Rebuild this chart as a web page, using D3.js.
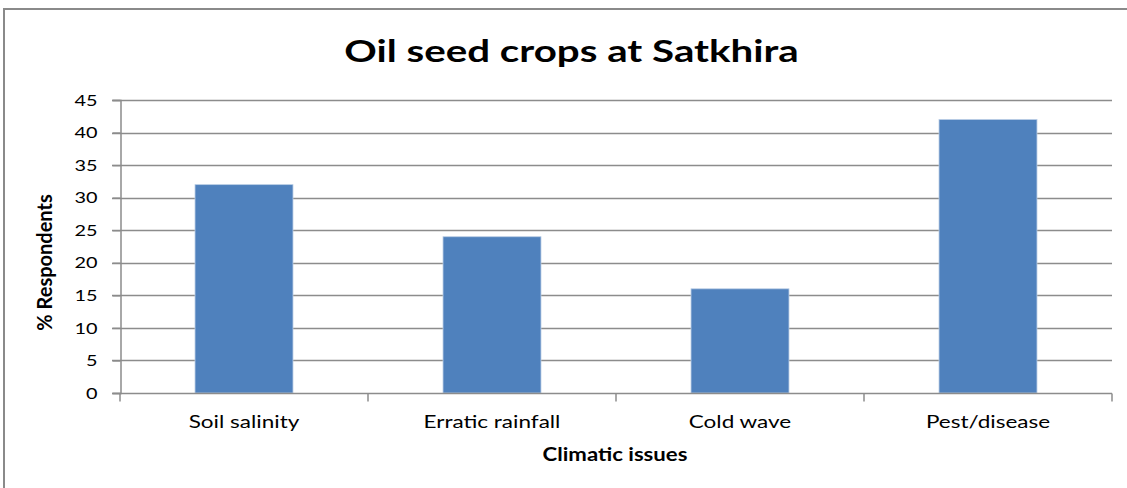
<!DOCTYPE html>
<html>
<head>
<meta charset="utf-8">
<script src="https://cdn.jsdelivr.net/npm/d3@7"></script>
<style>
  body { margin: 0; background: #fff; }
  text { font-family: Lato, "Open Sans", sans-serif; fill: #000; }
</style>
</head>
<body>
<div id="main"></div>
<script>

var categories = ["Soil salinity", "Erratic rainfall", "Cold wave", "Pest/disease"];
var values = [32, 24, 16, 42];
var yTicks = [0, 5, 10, 15, 20, 25, 30, 35, 40, 45];

var data = categories.map((c, i) => ({cat: c, val: values[i]}));

var W = 1127, H = 488;
var pLeft = 120, pRight = 1112, pTop = 100, pBottom = 393;

// the original picture is a bit stretched sideways, so text gets widened
function stretch(sel, k) {
  sel.each(function() {
    var w = this.getComputedTextLength();
    d3.select(this)
      .attr("textLength", w * k)
      .attr("lengthAdjust", "spacingAndGlyphs");
  });
}

var svg = d3.select('#main')
  .append('svg')
  .attr("width", W)
  .attr("height", H);

// chart area border
svg.append('rect')
  .attr("x", 4)
  .attr("y", 9)
  .attr("width", W + 10)
  .attr("height", H + 10)
  .attr("fill", "#fff")
  .attr("stroke", "#8a8a8a")
  .attr("stroke-width", 2);

var x = d3.scaleBand().domain(categories).range([pLeft, pRight]).padding(0);
var y = d3.scaleLinear().domain([0, 45]).range([pBottom, pTop]);

var g = svg.append('g');

// gridlines
g.selectAll('line.grid')
  .data(yTicks.filter(d => d > 0))
  .enter()
  .append('line')
  .attr("class", "grid")
  .attr("x1", pLeft - 8)
  .attr("x2", pRight)
  .attr("y1", d => Math.round(y(d)) + 0.5)
  .attr("y2", d => Math.round(y(d)) + 0.5)
  .style("stroke", "#8c8c8c")
  .style("stroke-width", 1.5);

// bars
var bw = x.bandwidth() * 0.395;
g.selectAll('rect.bar')
  .data(data)
  .enter()
  .append('rect')
  .attr("class", "bar")
  .attr("x", d => x(d.cat) + (x.bandwidth() - bw) / 2)
  .attr("y", d => y(d.val))
  .attr("width", bw)
  .attr("height", d => y(0) - y(d.val))
  .style("fill", "#4F81BD")
  .style("stroke", "#b9cde5")
  .style("stroke-width", 0.8);

// y axis
var yAxis = d3.axisLeft(y).tickValues(yTicks).tickSize(8).tickPadding(15);
var ya = g.append('g')
  .attr("transform", "translate(" + (pLeft + 0.5) + ",0)")
  .call(yAxis);
ya.selectAll('line').style("stroke", "#8c8c8c").style("stroke-width", 1.5);
ya.select('.domain').style("stroke", "#8c8c8c").style("stroke-width", 1.5);
ya.selectAll('text')
  .style("font-size", "16px")
  .style("font-family", "Lato, sans-serif")
  .attr("fill", "#000")
  .call(stretch, 1.24);

// x axis
var xa = g.append('g')
  .attr("transform", "translate(0," + (Math.round(pBottom) + 0.5) + ")");
xa.append('line')
  .attr("x1", pLeft - 8).attr("x2", pRight)
  .style("stroke", "#8c8c8c").style("stroke-width", 1.5);
xa.selectAll('line.tick')
  .data(categories.map(c => x(c)).concat([pRight]))
  .enter()
  .append('line')
  .attr("class", "tick")
  .attr("x1", d => d).attr("x2", d => d)
  .attr("y1", 0).attr("y2", 8)
  .style("stroke", "#8c8c8c").style("stroke-width", 1.5);
xa.selectAll('text')
  .data(categories)
  .enter()
  .append('text')
  .text(d => d)
  .attr("x", d => x(d) + x.bandwidth() / 2)
  .attr("y", 34)
  .attr("text-anchor", "middle")
  .style("font-size", "18px")
  .call(stretch, 1.25);

// titles
svg.append('text')
  .text("Oil seed crops at Satkhira")
  .attr("x", 571.5)
  .attr("y", 62)
  .attr("text-anchor", "middle")
  .style("font-size", "30.5px")
  .style("font-weight", "bold")
  .call(stretch, 1.32);

svg.append('text')
  .text("Climatic issues")
  .attr("x", 615)
  .attr("y", 461)
  .attr("text-anchor", "middle")
  .style("font-size", "18px")
  .style("font-weight", "bold")
  .call(stretch, 1.23);

svg.append('text')
  .text("% Respondents")
  .attr("transform", "translate(51.5,262.5)rotate(-90)")
  .attr("text-anchor", "middle")
  .style("font-size", "20px")
  .style("font-weight", "bold");

</script>
</body>
</html>
